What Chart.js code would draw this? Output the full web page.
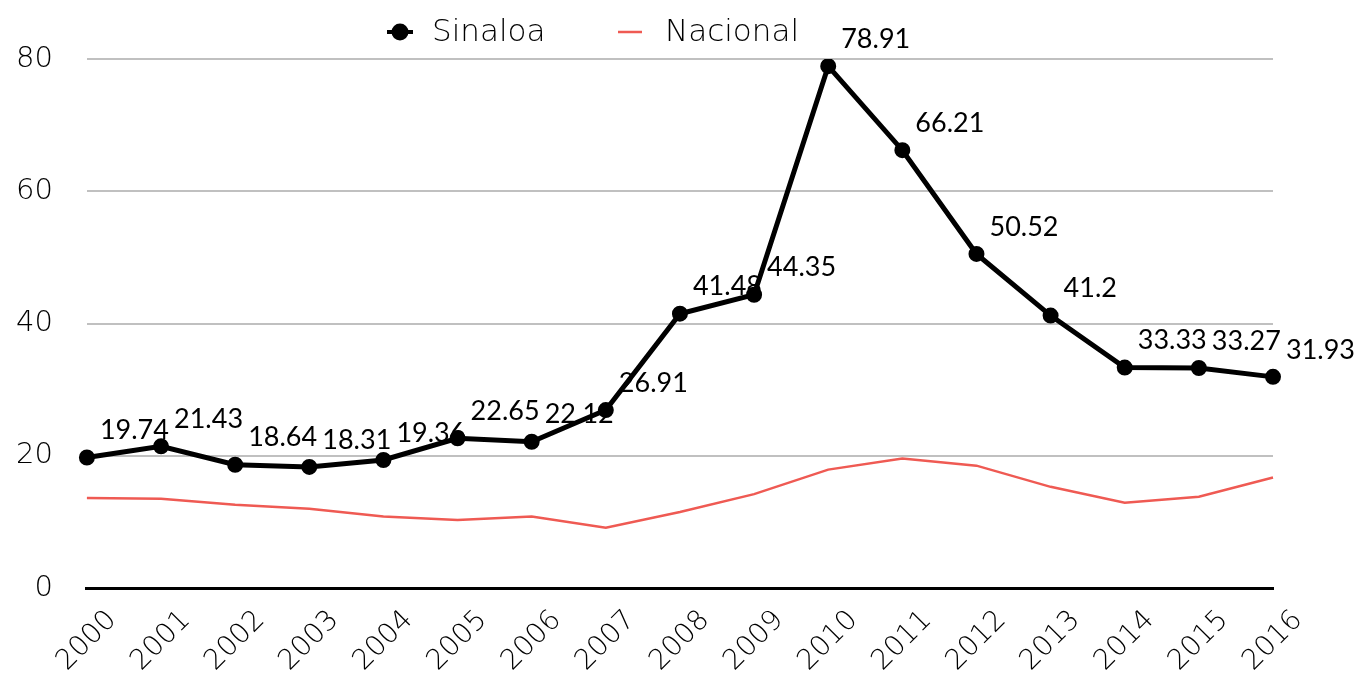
<!DOCTYPE html>
<html>
<head>
<meta charset="utf-8">
<script src="https://cdn.jsdelivr.net/npm/chart.js@4.4.1/dist/chart.umd.min.js"></script>
<style>
html,body{margin:0;padding:0;background:#fff;}
#wrap{width:1358px;height:677px;position:relative;}
</style>
</head>
<body>
<div id="wrap"><canvas id="c" width="1358" height="677"></canvas></div>
<script>
const years = ['2000','2001','2002','2003','2004','2005','2006','2007','2008','2009','2010','2011','2012','2013','2014','2015','2016'];
const sinaloa = [19.74,21.43,18.64,18.31,19.36,22.65,22.12,26.91,41.48,44.35,78.91,66.21,50.52,41.2,33.33,33.27,31.93];
const nacional = [13.6,13.5,12.6,12.0,10.8,10.3,10.8,9.1,11.5,14.2,17.9,19.6,18.5,15.3,12.9,13.8,16.7];
const yTicks = [0,20,40,60,80];

const thinFamily = '"DejaVu Sans ExtraLight", "DejaVu Sans"';
const labelFont = '27px Lato';

const valueLabels = {
  id:'valueLabels',
  afterDatasetsDraw(chart){
    const ctx = chart.ctx;
    const meta = chart.getDatasetMeta(0);
    ctx.save();
    ctx.font = labelFont;
    ctx.fillStyle = '#000';
    ctx.textAlign = 'left';
    ctx.textBaseline = 'middle';
    meta.data.forEach((pt,i)=>{
      ctx.fillText(String(sinaloa[i]), pt.x + 13, pt.y - 27);
    });
    ctx.restore();
  }
};

const rotatedXLabels = {
  id:'rotatedXLabels',
  afterDraw(chart){
    const ctx = chart.ctx;
    const xs = chart.scales.x;
    ctx.save();
    ctx.font = '200 28px ' + thinFamily;
    ctx.fillStyle = '#000';
    ctx.textAlign = 'center';
    ctx.textBaseline = 'middle';
    years.forEach((y,i)=>{
      const x = xs.getPixelForTick(i);
      ctx.save();
      ctx.translate(x, xs.bottom + 53);
      ctx.rotate(-Math.PI/4);
      ctx.fillText(y, 0, 0);
      ctx.restore();
    });
    ctx.restore();
  }
};

const customLegend = {
  id:'customLegend',
  afterDraw(chart){
    const ctx = chart.ctx;
    const ds = chart.data.datasets;
    ctx.save();
    ctx.font = '200 31px ' + thinFamily;
    ctx.textAlign = 'left';
    ctx.textBaseline = 'middle';
    const cy = 32;
    ctx.strokeStyle = ds[0].borderColor;
    ctx.lineWidth = 4;
    ctx.beginPath(); ctx.moveTo(387, cy); ctx.lineTo(413, cy); ctx.stroke();
    ctx.fillStyle = ds[0].pointBackgroundColor;
    ctx.beginPath(); ctx.arc(400, cy, 8.5, 0, Math.PI*2); ctx.fill();
    ctx.fillStyle = '#000';
    ctx.fillText(ds[0].label, 432, 33);
    ctx.strokeStyle = ds[1].borderColor;
    ctx.lineWidth = 2.5;
    ctx.beginPath(); ctx.moveTo(618, cy); ctx.lineTo(642, cy); ctx.stroke();
    ctx.fillText(ds[1].label, 665, 33);
    ctx.restore();
  }
};

new Chart(document.getElementById('c'), {
  type:'line',
  data:{
    labels: years,
    datasets:[
      {
        label:'Sinaloa',
        data: sinaloa,
        borderColor:'#000',
        backgroundColor:'#000',
        borderWidth:5,
        pointRadius:5.5,
        pointBackgroundColor:'#000',
        pointBorderColor:'#000',
        tension:0
      },
      {
        label:'Nacional',
        data: nacional,
        borderColor:'#ef5a53',
        backgroundColor:'#ef5a53',
        borderWidth:2.5,
        pointRadius:0,
        tension:0
      }
    ]
  },
  options:{
    responsive:false,
    animation:false,
    layout:{padding:{left:-18,right:85,top:59,bottom:89}},
    plugins:{
      legend:{display:false},
      tooltip:{enabled:false}
    },
    scales:{
      x:{
        offset:false,
        grid:{display:false, drawTicks:false},
        border:{display:true, color:'#000', width:3},
        ticks:{display:false}
      },
      y:{
        min:0,max:80,
        afterBuildTicks(scale){ scale.ticks = yTicks.map(v=>({value:v})); },
        grid:{color:'#c0c0c0', lineWidth:2, drawTicks:false},
        border:{display:false},
        ticks:{color:'#000', font:{family:thinFamily, size:29, weight:'200'}, padding:34}
      }
    }
  },
  plugins:[valueLabels, rotatedXLabels, customLegend]
});
</script>
</body>
</html>
